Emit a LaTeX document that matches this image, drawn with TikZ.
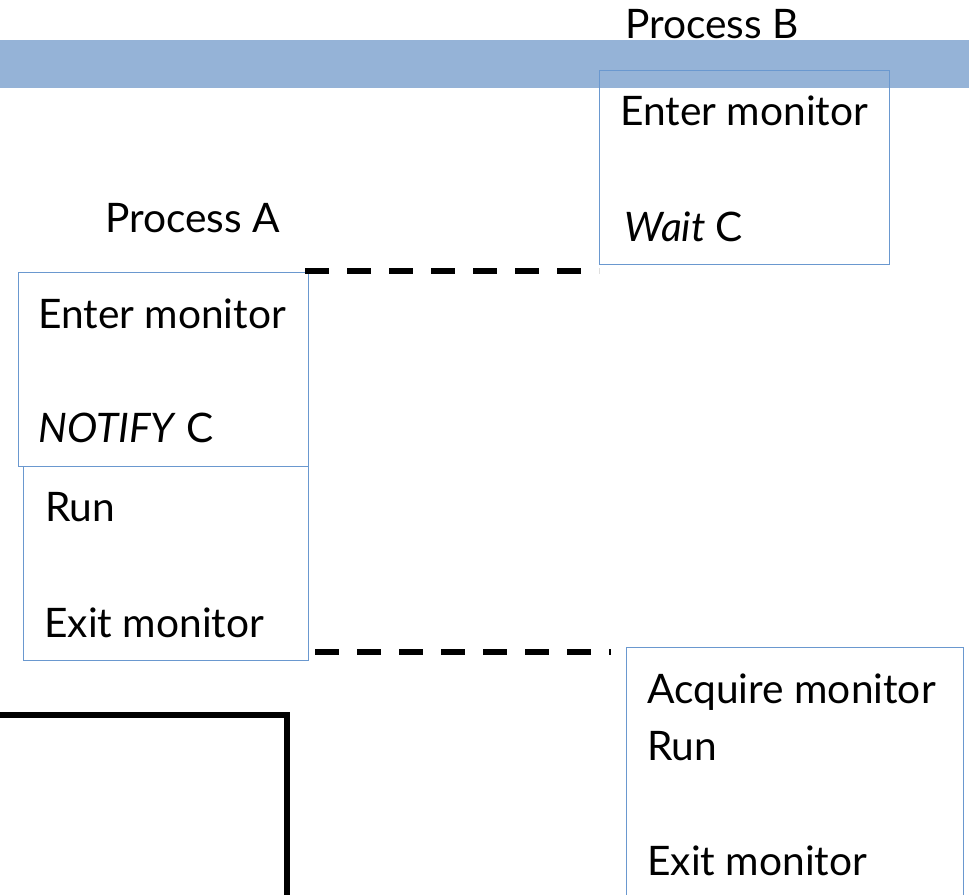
\documentclass[tikz,border=0pt]{standalone}
\usepackage{fontspec}
\setmainfont{Lato}
\definecolor{barblue}{HTML}{95B3D7}
\definecolor{boxblue}{HTML}{6A98CF}
\begin{document}
\begin{tikzpicture}[x=0.75pt,y=-0.75pt,
  box/.style={draw=boxblue,line width=0.9pt,rectangle,inner sep=0pt,anchor=north west},
  txt/.style={inner sep=0pt,anchor=base west,font=\fontsize{30.5}{36}\selectfont},
  handoff/.style={line width=4.5pt,dash pattern=on 18pt off 13.5pt}]
  \clip (0,0) rectangle (969,894);
  \fill[barblue] (0,40) rectangle (969,88);
  \node[txt] (procB) at (625,38) {Process B};
  \node[txt] (procA) at (105,232) {Process A};
  \node[box,minimum width=217.5pt,minimum height=145.5pt] (waitB) at (599,70) {};
  \node[box,minimum width=217.5pt,minimum height=145.5pt] (notifyA) at (18,272) {};
  \node[box,minimum width=213.75pt,minimum height=145.5pt] (runA) at (23,466) {};
  \node[box,minimum width=252.75pt,minimum height=212.25pt] (runB) at (626,647) {};
  \node[txt] (enterB) at (620,125) {Enter monitor};
  \node[txt] (wait) at (624,241) {\textit{Wait} C};
  \node[txt] (enterA) at (38,328) {Enter monitor};
  \node[txt] (notify) at (38,442) {\textit{NOTIFY} C};
  \node[txt] (runA1) at (45,521) {Run};
  \node[txt] (exitA) at (44,637) {Exit monitor};
  \node[txt] (acquire) at (647,703) {Acquire monitor};
  \node[txt] (runB1) at (647,760) {Run};
  \node[txt] (exitB) at (647,875) {Exit monitor};
  \coordinate (d1) at (305,271);
  \coordinate (d2) at (599,271);
  \coordinate (d3) at (315,652);
  \coordinate (d4) at (611,652);
  \draw[handoff] (d1) -- (d2);
  \draw[handoff] (d3) -- (d4);
  \draw[line width=4.5pt] (-10,715) -| (286.5,910);
\end{tikzpicture}
\end{document}
